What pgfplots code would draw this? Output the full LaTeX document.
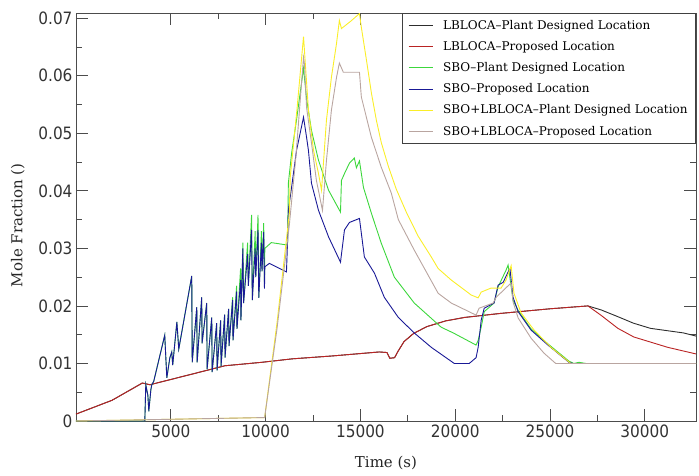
\documentclass[border=0pt]{standalone}
\usepackage{pgfplots}
\pgfplotsset{compat=1.18}
\usepackage{fontspec}
\setmainfont{DejaVu Serif}
\newfontfamily\tickfont{DejaVu Sans Condensed}

\definecolor{cBlack}{RGB}{45,45,45}
\definecolor{cRed}{RGB}{185,35,35}
\definecolor{cGreen}{RGB}{60,215,60}
\definecolor{cBlue}{RGB}{25,25,150}
\definecolor{cYellow}{RGB}{250,238,40}
\definecolor{cGray}{RGB}{185,165,160}

\begin{document}
\begin{tikzpicture}
\begin{axis}[
    at={(0,0)}, anchor=south west,
    scale only axis, width=620pt, height=408pt,
    xmin=0, xmax=32700, ymin=0, ymax=0.0709,
    scaled ticks=false,
    xtick={5000,10000,15000,20000,25000,30000},
    ytick={0,0.01,0.02,0.03,0.04,0.05,0.06,0.07},
    minor x tick num=1, minor y tick num=1,
    tick align=inside, major tick length=12pt, minor tick length=6pt,
    tick style={black!70, line width=0.8pt},
    axis line style={black!70, line width=0.8pt},
    /pgf/number format/assume math mode=true,
    x tick label style={font=\tickfont\fontsize{17}{17}\selectfont, text=black!80, /pgf/number format/1000 sep={}},
    y tick label style={font=\tickfont\fontsize{17}{17}\selectfont, text=black!80, /pgf/number format/fixed, /pgf/number format/precision=2},
    xlabel={Time (s)}, ylabel={Mole Fraction ()},
    label style={font=\fontsize{15}{15}\selectfont, text=black!85},
    xlabel style={at={(axis description cs:0.5,-0.103)}, anchor=center},
    ylabel style={at={(axis description cs:-0.094,0.48)}, anchor=center},
    legend style={at={(1,1)}, anchor=north east, draw=black!75, line width=0.8pt,
        font=\fontsize{12}{12}\selectfont, row sep=6.5pt, inner xsep=6pt, inner ysep=5pt,
        /tikz/every odd column/.append style={column sep=8pt}},
    legend cell align=left,
    legend image code/.code={\draw[#1, line width=1.1pt] (0pt,0pt) -- (24pt,0pt);},
    every axis plot/.append style={line width=0.9pt},
]
% LBLOCA - Plant Designed Location
\addplot[draw=cBlack] coordinates {
(0,0.0012) (1900,0.0036) (3500,0.0066) (3900,0.0063) (6300,0.0083) (7850,0.0096)
(9800,0.0102) (11400,0.0108) (13500,0.0113) (16000,0.0120) (16400,0.0119) (16550,0.0109)
(16800,0.0110) (17000,0.0122) (17300,0.0138) (17800,0.0152) (18500,0.0164) (19500,0.0174)
(20500,0.0180) (22400,0.0187) (25000,0.0195) (27000,0.0200) (27700,0.0193) (28600,0.0181)
(29400,0.0170) (30300,0.0161) (32050,0.0153) (32900,0.0146)};
\addlegendentry{LBLOCA–Plant Designed Location}
% LBLOCA - Proposed Location
\addplot[draw=cRed] coordinates {
(0,0.0012) (1900,0.0036) (3500,0.0066) (3900,0.0063) (6300,0.0083) (7850,0.0096)
(9800,0.0102) (11400,0.0108) (13500,0.0113) (16000,0.0120) (16400,0.0119) (16550,0.0109)
(16800,0.0110) (17000,0.0122) (17300,0.0138) (17800,0.0152) (18500,0.0164) (19500,0.0174)
(20500,0.0180) (22400,0.0187) (25000,0.0195) (27000,0.0200) (27680,0.0184) (28580,0.0161)
(29420,0.0146) (31210,0.0128) (32900,0.0115)};
\addlegendentry{LBLOCA–Proposed Location}
% SBO - Plant Designed Location
\addplot[draw=cGreen] coordinates {
(0,0) (3630,0) (3680,0.0063) (3790,0.0045) (3840,0.0017) (3950,0.0055) (4000,0.0063)
(4100,0.0069) (4680,0.0149) (4790,0.0075) (4950,0.0110) (5050,0.0120) (5100,0.0097)
(5320,0.0172) (5420,0.0125) (6105,0.0252) (6130,0.0102) (6370,0.0198) (6390,0.0102)
(6630,0.0215) (6650,0.0135) (6895,0.0205) (6915,0.0090) (7160,0.0180) (7180,0.0085)
(7420,0.0170) (7440,0.0088) (7630,0.0175) (7650,0.0095) (7840,0.0185) (7860,0.0110)
(8050,0.0195) (8070,0.0130) (8260,0.0215) (8280,0.0140) (8470,0.0235) (8490,0.0160)
(8680,0.0265) (8700,0.0175) (8800,0.0310) (8840,0.0205) (9050,0.0310) (9090,0.0235)
(9260,0.0358) (9300,0.0210) (9450,0.0330) (9480,0.0250) (9600,0.0358) (9640,0.0214)
(9780,0.0330) (9810,0.0260) (9900,0.0344) (9940,0.0240) (9960,0.0300) (10300,0.0310)
(11100,0.0306) (11160,0.0310) (11200,0.0413) (11370,0.0465) (11630,0.0523) (12000,0.0613)
(12160,0.0560) (12420,0.0505) (12790,0.0453) (13320,0.0401) (13950,0.0363) (14000,0.0418)
(14160,0.0430) (14420,0.0448) (14680,0.0457) (14790,0.0440) (14950,0.0452) (15160,0.0406)
(15580,0.0361) (16100,0.0309) (16790,0.0250) (17840,0.0205) (19260,0.0163) (19900,0.0153)
(21100,0.0132) (21210,0.0140) (21370,0.0163) (21530,0.0190) (22050,0.0205) (22260,0.0233)
(22680,0.0262) (22790,0.0271) (23050,0.0210) (23320,0.0192) (24000,0.0160) (24890,0.0134)
(26000,0.0104) (26260,0.0100) (26530,0.0102) (26890,0.0100) (32900,0.0100)};
\addlegendentry{SBO–Plant Designed Location}
% SBO - Proposed Location
\addplot[draw=cBlue] coordinates {
(0,0) (3630,0) (3680,0.0063) (3790,0.0045) (3840,0.0017) (3950,0.0055) (4000,0.0063)
(4100,0.0069) (4680,0.0149) (4790,0.0075) (4950,0.0110) (5050,0.0120) (5100,0.0097)
(5320,0.0172) (5420,0.0125) (6105,0.0252) (6130,0.0102) (6370,0.0198) (6390,0.0102)
(6630,0.0215) (6650,0.0135) (6895,0.0205) (6915,0.0090) (7160,0.0180) (7180,0.0085)
(7420,0.0170) (7440,0.0088) (7630,0.0175) (7650,0.0095) (7840,0.0185) (7860,0.0110)
(8050,0.0195) (8070,0.0130) (8260,0.0210) (8280,0.0140) (8470,0.0225) (8490,0.0160)
(8680,0.0245) (8700,0.0175) (8800,0.0300) (8840,0.0205) (9050,0.0290) (9090,0.0235)
(9260,0.0332) (9300,0.0210) (9450,0.0300) (9480,0.0250) (9600,0.0332) (9640,0.0214)
(9780,0.0310) (9810,0.0260) (9900,0.0328) (9940,0.0230) (9960,0.0268) (10200,0.0274)
(11100,0.0259) (11160,0.0314) (11200,0.0366) (11370,0.0406) (11630,0.0470) (12000,0.0528)
(12160,0.0493) (12260,0.0470) (12420,0.0413) (12790,0.0366) (13320,0.0320) (13950,0.0276)
(14160,0.0332) (14420,0.0345) (14950,0.0352) (15210,0.0285) (15740,0.0257) (16260,0.0215)
(17000,0.0180) (17840,0.0153) (18740,0.0128) (19950,0.0100) (20740,0.0100) (21100,0.0110)
(21210,0.0128) (21370,0.0175) (21530,0.0196) (22050,0.0205) (22260,0.0236) (22530,0.0241)
(22790,0.0259) (22890,0.0264) (23050,0.0215) (23320,0.0190) (24000,0.0158) (24890,0.0132)
(26000,0.0102) (26200,0.0100) (32900,0.0100)};
\addlegendentry{SBO–Proposed Location}
% SBO+LBLOCA - Plant Designed Location
\addplot[draw=cYellow] coordinates {
(0,0) (5000,0.0003) (9950,0.0006) (10600,0.0170) (11250,0.0360) (11300,0.0424)
(11650,0.0540) (12000,0.0668) (12260,0.0540) (12530,0.0470) (12790,0.0430) (12950,0.0401)
(13210,0.0523) (13470,0.0597) (13740,0.0656) (13890,0.0696) (14000,0.0682) (14500,0.0695)
(14950,0.0708) (15050,0.0684) (15320,0.0627) (15580,0.0570) (15840,0.0523) (16100,0.0484)
(16470,0.0443) (16890,0.0403) (17420,0.0363) (18050,0.0321) (18740,0.0285) (19100,0.0265)
(19790,0.0245) (20840,0.0219) (21210,0.0214) (21370,0.0224) (21890,0.0231) (22420,0.0231)
(22680,0.0245) (22950,0.0270) (23100,0.0222) (23470,0.0188) (24160,0.0158) (25050,0.0128)
(26100,0.0100) (32900,0.0100)};
\addlegendentry{SBO+LBLOCA–Plant Designed Location}
% SBO+LBLOCA - Proposed Location
\addplot[draw=cGray] coordinates {
(0,0) (5000,0.0003) (9950,0.0006) (10600,0.0160) (11250,0.0340) (11600,0.0460)
(12000,0.0632) (12050,0.0620) (12160,0.0545) (12420,0.0483) (12680,0.0418) (13000,0.0366)
(13210,0.0453) (13470,0.0540) (13740,0.0597) (13890,0.0622) (14100,0.0606) (14950,0.0606)
(15050,0.0563) (15580,0.0493) (16100,0.0441) (16630,0.0396) (17000,0.0350) (17840,0.0297)
(19100,0.0222) (19790,0.0205) (21100,0.0184) (21260,0.0196) (22000,0.0205) (22160,0.0215)
(22950,0.0240) (23050,0.0207) (23320,0.0179) (24000,0.0144) (24680,0.0118) (25300,0.0100)
(32900,0.0100)};
\addlegendentry{SBO+LBLOCA–Proposed Location}
\end{axis}
\pgfresetboundingbox
\useasboundingbox (-76pt,-54pt) rectangle (623pt,421pt);
\end{tikzpicture}
\end{document}
